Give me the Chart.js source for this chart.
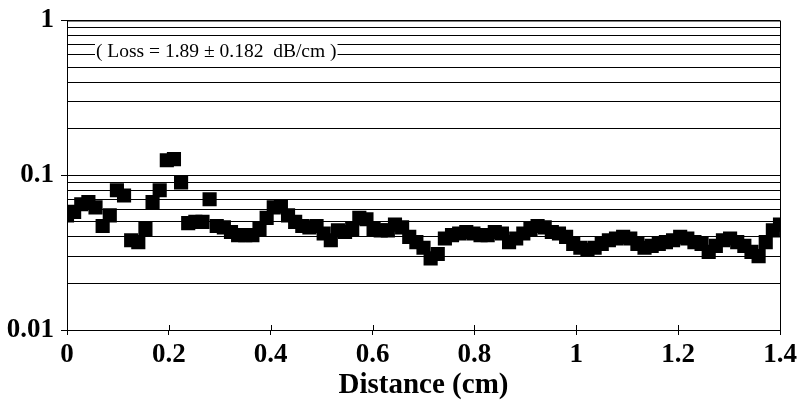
<!DOCTYPE html>
<html>
<head>
<meta charset="utf-8">
<script src="https://cdn.jsdelivr.net/npm/chart.js@4/dist/chart.umd.min.js"></script>
<style>
  html, body { margin: 0; padding: 0; background: #fff; }
</style>
</head>
<body>
<canvas id="grafico" width="803" height="403"></canvas>
<script>
// distancia (cm) e perda medida
const distancia = [
  0, 0.014, 0.028, 0.042, 0.056, 0.07, 0.084, 0.098, 0.112, 0.126,
  0.14, 0.154, 0.168, 0.182, 0.196, 0.21, 0.224, 0.238, 0.252, 0.266,
  0.28, 0.294, 0.308, 0.322, 0.336, 0.35, 0.364, 0.378, 0.392, 0.406,
  0.42, 0.434, 0.448, 0.462, 0.476, 0.49, 0.504, 0.518, 0.532, 0.546,
  0.56, 0.574, 0.588, 0.602, 0.616, 0.63, 0.644, 0.658, 0.672, 0.686,
  0.7, 0.714, 0.728, 0.742, 0.756, 0.77, 0.784, 0.798, 0.812, 0.826,
  0.84, 0.854, 0.868, 0.882, 0.896, 0.91, 0.924, 0.938, 0.952, 0.966,
  0.98, 0.994, 1.008, 1.022, 1.036, 1.05, 1.064, 1.078, 1.092, 1.106,
  1.12, 1.134, 1.148, 1.162, 1.176, 1.19, 1.204, 1.218, 1.232, 1.246,
  1.26, 1.274, 1.288, 1.302, 1.316, 1.33, 1.344, 1.358, 1.372, 1.386, 1.4
];
const perda = [
  0.055, 0.058, 0.065, 0.067, 0.062, 0.047, 0.055, 0.08, 0.074, 0.038,
  0.037, 0.045, 0.067, 0.08, 0.125, 0.127, 0.09, 0.049, 0.05, 0.05,
  0.07, 0.047, 0.046, 0.043, 0.041, 0.041, 0.041, 0.045, 0.053, 0.062,
  0.063, 0.055, 0.05, 0.047, 0.046, 0.047, 0.042, 0.038, 0.044, 0.043,
  0.045, 0.053, 0.052, 0.045, 0.044, 0.044, 0.048, 0.046, 0.04, 0.037,
  0.034, 0.029, 0.031, 0.039, 0.041, 0.042, 0.043, 0.042, 0.041, 0.041,
  0.043, 0.042, 0.037, 0.039, 0.042, 0.045, 0.047, 0.046, 0.043, 0.042,
  0.04, 0.036, 0.034, 0.033, 0.034, 0.036, 0.038, 0.039, 0.04, 0.039,
  0.036, 0.034, 0.035, 0.036, 0.037, 0.038, 0.04, 0.039, 0.037, 0.036,
  0.032, 0.035, 0.038, 0.039, 0.037, 0.035, 0.032, 0.03, 0.037, 0.044, 0.048
];

const xTicks = [0, 0.2, 0.4, 0.6, 0.8, 1, 1.2, 1.4];
const xTickLabels = ["0", "0.2", "0.4", "0.6", "0.8", "1", "1.2", "1.4"];
const yGrade = [0.01, 0.02, 0.03, 0.04, 0.05, 0.06, 0.07, 0.08, 0.09,
                0.1, 0.2, 0.3, 0.4, 0.5, 0.6, 0.7, 0.8, 0.9, 1];
const yMaiores = [0.01, 0.1, 1];
const yMaioresLabels = ["0.01", "0.1", "1"];
const anotacao = "( Loss = 1.89 \u00b1 0.182  dB/cm )";

Chart.defaults.font.family = "'Liberation Serif', 'Times New Roman', serif";
Chart.defaults.color = "#000";

function ehMaior(v) {
  return yMaiores.some(m => Math.abs(m - v) < 1e-9);
}

// moldura, tracinhos cruzando o eixo x e texto da perda
const moldura = {
  id: "moldura",
  afterDraw(chart) {
    const { ctx, chartArea: a } = chart;
    const sx = chart.scales.x;
    ctx.save();
    ctx.strokeStyle = "#000";
    ctx.lineWidth = 1;
    ctx.strokeRect(a.left + 0.5, a.top + 0.5, a.right - a.left, a.bottom - a.top);
    ctx.beginPath();
    xTicks.forEach(v => {
      const px = Math.round(sx.getPixelForValue(v)) + 0.5;
      ctx.moveTo(px, a.bottom - 5);
      ctx.lineTo(px, a.bottom);
    });
    ctx.stroke();

    ctx.font = "19.5px 'Liberation Serif'";
    ctx.textBaseline = "middle";
    const w = ctx.measureText(anotacao).width;
    const x = a.left + 29, y = a.top + 31;
    ctx.fillStyle = "#fff";
    ctx.fillRect(x - 1, y - 11, w + 2, 22);
    ctx.fillStyle = "#000";
    ctx.fillText(anotacao, x, y);
    ctx.restore();
  }
};

new Chart(document.getElementById("grafico").getContext("2d"), {
  type: "scatter",
  data: {
    datasets: [{
      label: "Loss",
      data: distancia.map((d, i) => ({ x: d, y: perda[i] })),
      pointStyle: "rect",
      pointRadius: 10,
      pointHoverRadius: 10,
      backgroundColor: "#000",
      borderColor: "#000",
      borderWidth: 0
    }]
  },
  options: {
    responsive: false,
    animation: false,
    layout: { padding: { left: 0, right: 23, top: 16, bottom: 0 } },
    plugins: {
      legend: { display: false },
      tooltip: { enabled: false }
    },
    scales: {
      x: {
        type: "linear",
        min: 0,
        max: 1.4,
        afterFit: s => { s.height = 73; },
        afterBuildTicks: s => { s.ticks = xTicks.map(v => ({ value: v })); },
        ticks: {
          padding: 4,
          font: { size: 27, weight: "bold" },
          callback: (v) => xTickLabels[xTicks.findIndex(t => Math.abs(t - v) < 1e-9)]
        },
        grid: { drawOnChartArea: false, color: "#000", tickLength: 5, lineWidth: 1 },
        border: { display: true, color: "#000" },
        title: {
          display: true,
          text: "Distance (cm)",
          font: { size: 29, weight: "bold" },
          padding: { top: 0, bottom: 0 }
        }
      },
      y: {
        type: "logarithmic",
        min: 0.01,
        max: 1,
        afterFit: s => { s.width = 67; },
        afterBuildTicks: s => { s.ticks = yGrade.map(v => ({ value: v })); },
        ticks: {
          padding: 7,
          autoSkip: false,
          font: { size: 27, weight: "bold", lineHeight: 1 },
          callback: (v) => {
            const k = yMaiores.findIndex(m => Math.abs(m - v) < 1e-9);
            return k >= 0 ? yMaioresLabels[k] : "";
          }
        },
        grid: {
          color: "#000",
          lineWidth: 1,
          tickLength: 6,
          tickColor: c => (c.tick && ehMaior(c.tick.value)) ? "#000" : "rgba(0,0,0,0)"
        },
        border: { display: true, color: "#000" }
      }
    }
  },
  plugins: [moldura]
});
</script>
</body>
</html>
